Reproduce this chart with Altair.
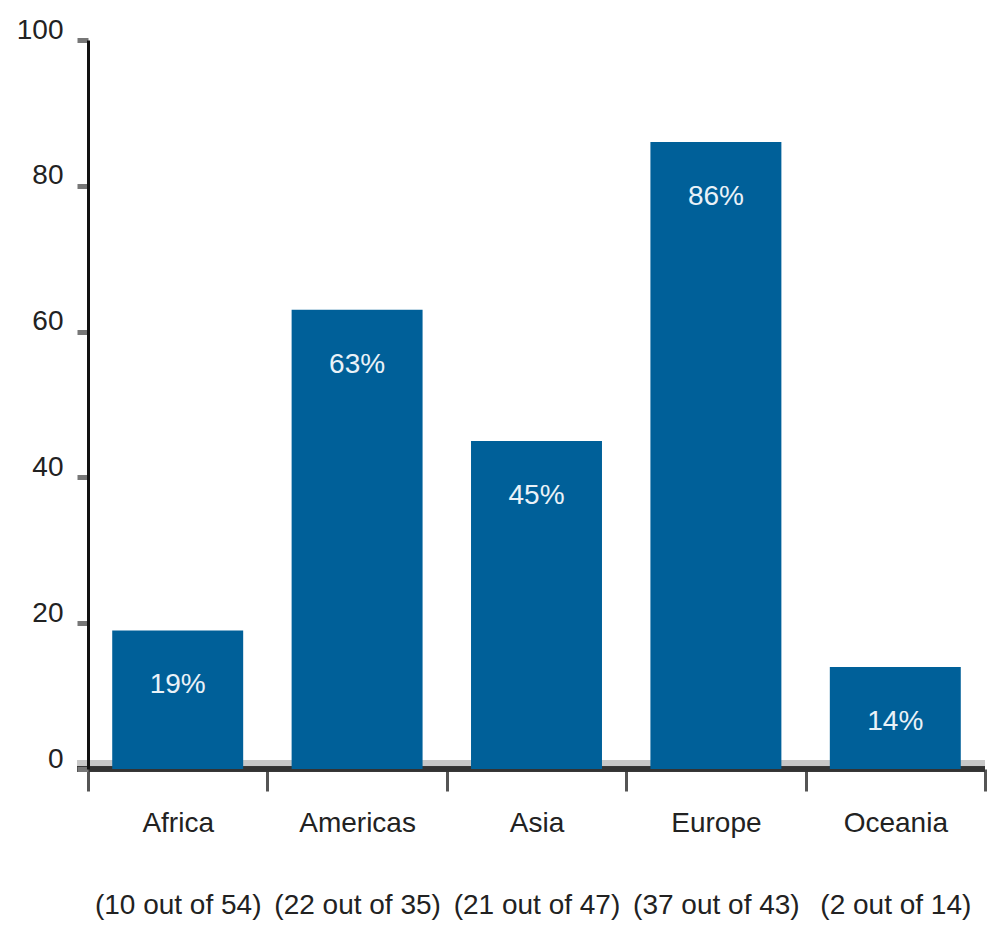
import altair as alt
import pandas as pd

regions = ["Africa", "Americas", "Asia", "Europe", "Oceania"]
counts = ["(10 out of 54)", "(22 out of 35)", "(21 out of 47)", "(37 out of 43)", "(2 out of 14)"]
values = [19, 63, 45, 86, 14]
y_ticks = [0, 20, 40, 60, 80, 100]

df = pd.DataFrame({
    "cat": [f"{r}|{c}" for r, c in zip(regions, counts)],
    "value": values,
    "label": [f"{v}%" for v in values],
})

FONT = "Liberation Sans, Arial, sans-serif"
BLUE = "#006099"
FS = 28

x_enc = alt.X(
    "cat:N", sort=None, title=None,
    scale=alt.Scale(paddingInner=0, paddingOuter=0),
    axis=alt.Axis(
        labelExpr="datum.value ? split(datum.value, '|') : ''",
        labelAngle=0, labelFontSize=FS, labelColor="#222", labelFont=FONT,
        labelLineHeight=82, labelPadding=18, labelBaseline="top", labelLimit=0,
        domain=False, tickBand="extent", tickSize=22, tickWidth=3, tickColor="#555",
    ),
)
y_enc = alt.Y(
    "value:Q", title=None,
    scale=alt.Scale(domain=[0, 100], nice=False),
    axis=alt.Axis(
        values=y_ticks, labelFontSize=FS, labelColor="#222", labelFont=FONT,
        labelPadding=14, labelOffset=-10, tickSize=11, tickWidth=5, tickColor="#777",
        domainColor="#111", domainWidth=3, grid=False, zindex=1,
    ),
)

base = alt.Chart(df)

light = base.mark_rule(color="#c8c8c8", strokeWidth=6, yOffset=-6).encode(
    y=alt.datum(0), x=alt.value(-11), x2=alt.value(897)
)
dark = base.mark_rule(color="#333333", strokeWidth=5).encode(
    y=alt.datum(0), x=alt.value(-11), x2=alt.value(897)
)
bars = base.mark_bar(color=BLUE, width=alt.RelativeBandSize(0.73), y2Offset=2).encode(
    x=x_enc, y=y_enc
)
text = base.mark_text(
    color="#eaf2f8", fontSize=FS, font=FONT, baseline="middle", dy=55
).encode(x=x_enc, y=y_enc, text="label:N")

chart = alt.layer(light, dark, bars, text).properties(
    width=897, height=729,
    autosize=alt.AutoSizeParams(type="none"),
    padding={"left": 88, "top": 40, "right": 10, "bottom": 169},
    background="white",
).configure_view(stroke=None)

chart.save("out.html", embed_options={"renderer": "svg", "actions": False})
